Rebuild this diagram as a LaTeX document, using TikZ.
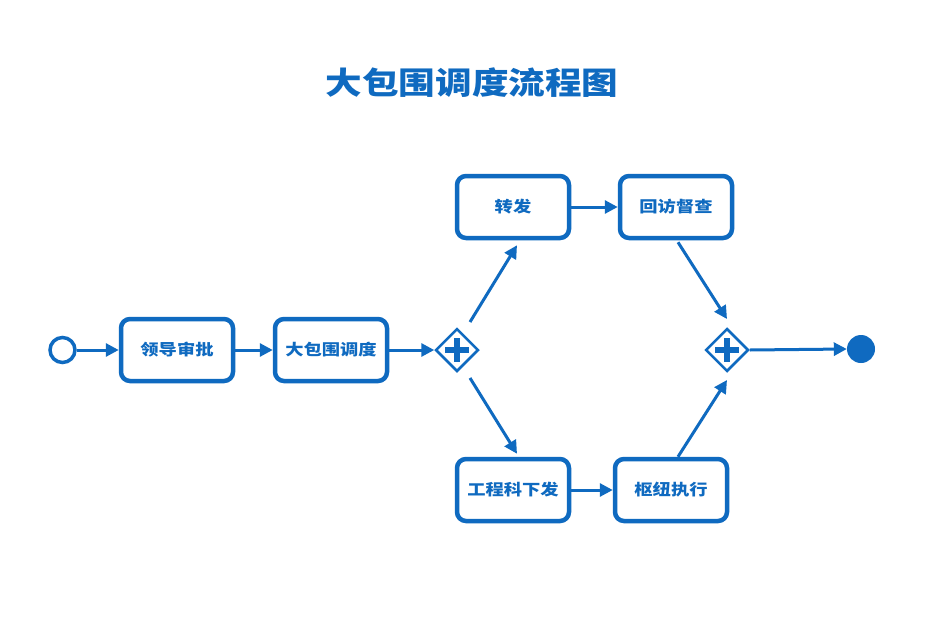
\documentclass[tikz,border=0pt]{standalone}
\usepackage{fontspec}
\setmainfont{Noto Sans CJK SC}
\newfontfamily\widecjk{Noto Sans CJK SC}[FakeStretch=1.18]
\usetikzlibrary{shapes.geometric,arrows.meta,calc}
\definecolor{bpmn}{RGB}{15,106,192}
\tikzset{
  stepbox/.style={draw=bpmn, line width=4.5pt, rounded corners=9pt, minimum width=112pt, minimum height=62pt, fill=white, text=bpmn, font=\widecjk\fontsize{15.5pt}{17pt}\selectfont\bfseries, inner sep=0pt},
  gate/.style={diamond, draw=bpmn, line width=2.5pt, minimum width=43pt, minimum height=43pt, inner sep=0pt, fill=white},
  conn/.style={draw=bpmn, line width=3pt, -{Triangle[length=13pt,width=13pt]}},
}
\begin{document}
\begin{tikzpicture}[x=1pt,y=-1pt]
\path[use as bounding box, fill=white] (0,0) rectangle (951,619);
\node[text=bpmn, font=\widecjk\fontsize{31pt}{34pt}\selectfont\bfseries] (title) at (472,83) {大包围调度流程图};
\node[circle, draw=bpmn, line width=3.5pt, minimum size=25pt, inner sep=0pt] (s) at (62.5,350) {};
\node[stepbox] (b1) at (177,350) {领导审批};
\node[stepbox] (b2) at (331,350) {大包围调度};
\node[gate] (g1) at (457,350) {};
\draw[bpmn, line width=6pt] ($(g1)+(-12,0)$) -- ($(g1)+(12,0)$) ($(g1)+(0,-12)$) -- ($(g1)+(0,12)$);
\node[stepbox] (t1) at (513,207) {转发};
\node[stepbox] (t2) at (676,207) {回访督查};
\node[stepbox] (d1) at (513,490) {工程科下发};
\node[stepbox] (d2) at (671,490) {枢纽执行};
\node[gate] (g2) at (727,350) {};
\draw[bpmn, line width=6pt] ($(g2)+(-12,0)$) -- ($(g2)+(12,0)$) ($(g2)+(0,-12)$) -- ($(g2)+(0,12)$);
\node[circle, fill=bpmn, minimum size=28pt, inner sep=0pt] (e) at (861,349) {};
\draw[conn] (s.east) -- (b1.west);
\draw[conn] (b1.east) -- (b2.west);
\draw[conn] (b2.east) -- (g1.west);
\draw[conn] ($(g1)+(13,-28)$) -- ($(t1.south)+(4,5)$);
\draw[conn] ($(g1)+(13,28)$) -- ($(d1.north)+(4,-3)$);
\draw[conn] (t1.east) -- (t2.west);
\draw[conn] (d1.east) -- (d2.west);
\draw[conn] ($(t2.south)+(2,2)$) -- ($(g2)+(0,-31)$);
\draw[conn] ($(d2.north)+(7,0)$) -- ($(g2)+(0,30)$);
\draw[conn] (g2.east) -- (e.west);
\end{tikzpicture}
\end{document}
